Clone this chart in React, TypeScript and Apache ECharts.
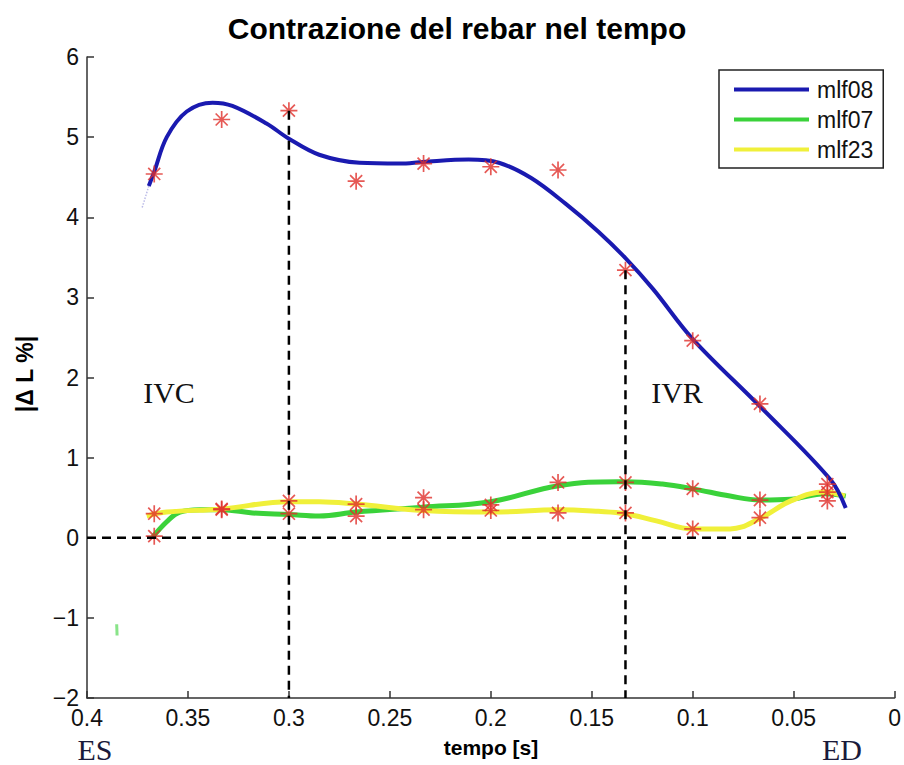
import React, { useEffect, useRef } from "react";
import * as echarts from "echarts";

// ---- data (time in s, value in |ΔL %|) ----
const markerTimes = [0.3667, 0.3333, 0.3, 0.2667, 0.2333, 0.2, 0.1667, 0.1333, 0.1, 0.0667, 0.0333];
const mlf08Markers = [4.54, 5.22, 5.33, 4.45, 4.67, 4.63, 4.59, 3.34, 2.46, 1.67, 0.67];
const mlf07Markers = [0.02, 0.35, 0.3, 0.27, 0.35, 0.34, 0.69, 0.69, 0.61, 0.47, 0.57];
const mlf23Markers = [0.3, 0.36, 0.46, 0.42, 0.5, 0.41, 0.31, 0.31, 0.11, 0.25, 0.46];

const mlf08Curve: [number, number][] = [
  [0.3694, 4.39], [0.3667, 4.57], [0.3605, 5.0], [0.3506, 5.32], [0.3378, 5.43], [0.328, 5.39],
  [0.3111, 5.17], [0.3, 4.98], [0.285, 4.78], [0.265, 4.68], [0.245, 4.67], [0.2336, 4.69],
  [0.211, 4.72], [0.196, 4.68], [0.18, 4.49], [0.163, 4.17], [0.1467, 3.82], [0.1333, 3.49],
  [0.1195, 3.1], [0.1, 2.48], [0.0667, 1.64], [0.0316, 0.72], [0.0242, 0.37],
];
const mlf07Curve: [number, number][] = [
  [0.3674, 0.01], [0.3605, 0.2], [0.354, 0.32], [0.3442, 0.35], [0.3333, 0.35], [0.318, 0.31],
  [0.3, 0.29], [0.285, 0.27], [0.2667, 0.32], [0.234, 0.38], [0.2, 0.45], [0.1664, 0.65],
  [0.137, 0.7], [0.1333, 0.7], [0.115, 0.67], [0.0998, 0.61], [0.0815, 0.52], [0.0667, 0.47],
  [0.0514, 0.48], [0.0346, 0.55], [0.0242, 0.52],
];
const mlf23Curve: [number, number][] = [
  [0.3704, 0.27], [0.3605, 0.32], [0.3333, 0.36], [0.3, 0.45], [0.285, 0.45], [0.2667, 0.42],
  [0.2336, 0.34], [0.1995, 0.32], [0.1664, 0.35], [0.1467, 0.33], [0.1333, 0.3], [0.118, 0.21],
  [0.0998, 0.11], [0.0815, 0.11], [0.0667, 0.24], [0.0514, 0.46], [0.0346, 0.57], [0.0247, 0.52],
];
const mlf08Faint: [number, number][] = [[0.3694, 4.39], [0.3728, 4.11]];
const mlf07Faint: [number, number][] = [[0.3853, -1.08], [0.3851, -1.22]];

const zeroLine: [number, number][] = [[0.4, 0], [0.023, 0]];
const ivcLine: [number, number][] = [[0.3, 5.33], [0.3, -2]];
const ivrLine: [number, number][] = [[0.1333, 3.34], [0.1333, -2]];

const xTicks = { min: 0, max: 0.4, interval: 0.05 };
const yTicks = { min: -2, max: 6, interval: 1 };

const seriesNames = ["mlf08", "mlf07", "mlf23"];
const colors = ["#1a1ab0", "#3ad23a", "#f0f03a"];

const SANS = "Liberation Sans, Arial, sans-serif";
const SERIF = "Liberation Serif, Times New Roman, serif";
const STAR = "path://M0,-8L0,8M-8,0L8,0M-5.66,-5.66L5.66,5.66M-5.66,5.66L5.66,-5.66";

export default function App() {
  const ref = useRef<HTMLDivElement>(null);
  useEffect(() => {
    if (!ref.current) return;
    const chart = echarts.init(ref.current, null, { renderer: "svg" });
    const fmt = (v: number) => String(+v.toFixed(2)).replace("-", "\u2212");
    const axisCommon = {
      type: "value",
      splitLine: { show: false },
      axisLine: { show: true, onZero: false, lineStyle: { color: "#333", width: 1.5 } },
      axisTick: { show: true, inside: true, length: 7, lineStyle: { color: "#333", width: 1.5 } },
      axisLabel: { fontSize: 23, color: "#111", fontFamily: SANS, margin: 8, formatter: fmt },
    };
    const markerSeries = (name: string, vals: number[]) => ({
      type: "scatter",
      name: name + "_pts",
      data: markerTimes.map((t, i) => [t, vals[i]]),
      symbol: STAR,
      symbolSize: 17,
      itemStyle: { color: "rgba(0,0,0,0)", borderColor: "#e0302a", borderWidth: 1.7 },
      z: 4,
      silent: true,
    });
    const dashed = (data: [number, number][]) => ({
      type: "line",
      data,
      showSymbol: false,
      lineStyle: { color: "#000", width: 2.5, type: [9, 6] },
      z: 5,
      silent: true,
    });
    const curve = (idx: number, data: [number, number][], width: number, smooth: number) => ({
      type: "line",
      name: seriesNames[idx],
      data,
      smooth,
      showSymbol: false,
      lineStyle: { color: colors[idx], width },
      itemStyle: { color: colors[idx] },
      z: 3,
    });
    chart.setOption({
      animation: false,
      backgroundColor: "#fff",
      grid: { left: 87, right: 7, top: 57, bottom: 67 },
      xAxis: { ...axisCommon, ...xTicks, inverse: true },
      yAxis: { ...axisCommon, ...yTicks },
      legend: {
        data: seriesNames,
        orient: "vertical",
        left: 719,
        top: 70,
        padding: [8, 10, 7, 15],
        itemGap: 7,
        itemWidth: 75,
        itemHeight: 4,
        icon: "rect",
        borderColor: "#222",
        borderWidth: 1.5,
        backgroundColor: "#fff",
        textStyle: { fontSize: 23, fontFamily: SANS, color: "#111", lineHeight: 23, padding: [0, 0, 0, 3] },
        selectedMode: false,
      },
      series: [
        {
          type: "line", data: mlf08Faint, showSymbol: false, silent: true,
          lineStyle: { color: colors[0], width: 1.5, type: "dotted", opacity: 0.3 }, z: 2,
        },
        {
          type: "line", data: mlf07Faint, showSymbol: false, silent: true,
          lineStyle: { color: colors[1], width: 3, opacity: 0.6 }, z: 2,
        },
        curve(1, mlf07Curve, 5, 0.4),
        curve(2, mlf23Curve, 5, 0.4),
        curve(0, mlf08Curve, 4, 0.35),
        markerSeries("mlf08", mlf08Markers),
        markerSeries("mlf07", mlf07Markers),
        markerSeries("mlf23", mlf23Markers),
        dashed(zeroLine),
        dashed(ivcLine),
        dashed(ivrLine),
      ],
      graphic: [
        {
          type: "text", x: 457, y: 28,
          style: { text: "Contrazione del rebar nel tempo", font: `bold 30px ${SANS}`, fill: "#000", textAlign: "center", textVerticalAlign: "middle" },
        },
        {
          type: "text", x: 25, y: 374, rotation: Math.PI / 2,
          style: { text: "|\u0394 L %|", font: `bold 23px ${SANS}`, fill: "#000", textAlign: "center", textVerticalAlign: "middle" },
        },
        {
          type: "text", x: 491, y: 747,
          style: { text: "tempo [s]", font: `bold 21px ${SANS}`, fill: "#000", textAlign: "center", textVerticalAlign: "middle" },
        },
        {
          type: "text", x: 169, y: 392,
          style: { text: "IVC", font: `30px ${SERIF}`, fill: "#111", textAlign: "center", textVerticalAlign: "middle" },
        },
        {
          type: "text", x: 677, y: 392,
          style: { text: "IVR", font: `30px ${SERIF}`, fill: "#111", textAlign: "center", textVerticalAlign: "middle" },
        },
        {
          type: "text", x: 95, y: 749,
          style: { text: "ES", font: `30px ${SERIF}`, fill: "#1a1a3a", textAlign: "center", textVerticalAlign: "middle" },
        },
        {
          type: "text", x: 842, y: 749,
          style: { text: "ED", font: `30px ${SERIF}`, fill: "#1a1a3a", textAlign: "center", textVerticalAlign: "middle" },
        },
      ],
    });
    return () => chart.dispose();
  }, []);
  return (
    <div
      ref={ref}
      style={{ position: "fixed", left: 0, top: 0, width: 904, height: 765, background: "#fff" }}
    />
  );
}
